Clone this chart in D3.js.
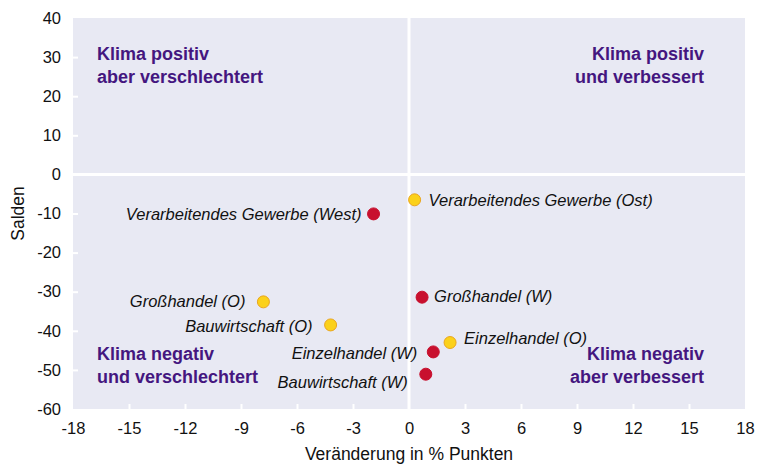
<!DOCTYPE html>
<html>
<head>
<meta charset="utf-8">
<script src="https://cdn.jsdelivr.net/npm/d3@7"></script>
<style>
  body { margin: 0; background: #fff; }
  text { font-family: "Liberation Sans", Arial, sans-serif; }
</style>
</head>
<body>
<svg id="chart"></svg>
<script>
const width = 761, height = 464;

// data
const names = ["Verarbeitendes Gewerbe (West)", "Verarbeitendes Gewerbe (Ost)",
  "Großhandel (O)", "Großhandel (W)", "Bauwirtschaft (O)",
  "Einzelhandel (W)", "Einzelhandel (O)", "Bauwirtschaft (W)"];
const changes = [-1.9, 0.3, -7.8, 0.7, -4.2, 1.3, 2.2, 0.9];
const balances = [-10.1, -6.5, -32.6, -31.4, -38.5, -45.4, -43.0, -51.1];
const region = ["W", "O", "O", "W", "O", "W", "O", "W"];

const xTicks = [-18, -15, -12, -9, -6, -3, 0, 3, 6, 9, 12, 15, 18];
const yTicks = [40, 30, 20, 10, 0, -10, -20, -30, -40, -50, -60];

const quadrants = [
  {lines: ["Klima positiv", "aber verschlechtert"], side: "left", top: true},
  {lines: ["Klima positiv", "und verbessert"], side: "right", top: true},
  {lines: ["Klima negativ", "und verschlechtert"], side: "left", top: false},
  {lines: ["Klima negativ", "aber verbessert"], side: "right", top: false}
];

// where each label sits next to its dot
const labelPos = [
  {anchor: "end", dx: -12, dy: 0},
  {anchor: "start", dx: 14, dy: 0},
  {anchor: "end", dx: -18, dy: -1},
  {anchor: "start", dx: 12, dy: -1},
  {anchor: "end", dx: -18, dy: 1},
  {anchor: "end", dx: -16, dy: 1},
  {anchor: "start", dx: 14, dy: -4},
  {anchor: "end", dx: -18, dy: 8}
];

const margin = {top: 18, right: 16, bottom: 55, left: 73};

const svg = d3.select("#chart")
  .attr("width", width)
  .attr("height", height);

const x = d3.scaleLinear().domain([-18, 18]).range([margin.left, width - margin.right]);
const y = d3.scaleLinear().domain([-60, 40]).range([height - margin.bottom, margin.top]);

// plot background
svg.append("rect")
  .attr("x", x(-18)).attr("y", y(40))
  .attr("width", x(18) - x(-18)).attr("height", y(-60) - y(40))
  .attr("fill", "#e8e9f3");

// zero lines
svg.append("line")
  .attr("x1", x(0)).attr("x2", x(0)).attr("y1", y(40)).attr("y2", y(-60))
  .attr("stroke", "#fff").attr("stroke-width", 3);
svg.append("line")
  .attr("x1", x(-18)).attr("x2", x(18)).attr("y1", y(0)).attr("y2", y(0))
  .attr("stroke", "#fff").attr("stroke-width", 3);

// axes
const fmt = d => String(d);
const xAxis = svg.append("g")
  .attr("transform", `translate(0,${y(-60)})`)
  .call(d3.axisBottom(x).tickValues(xTicks).tickFormat(fmt).tickSize(-5).tickPadding(13));
const yAxis = svg.append("g")
  .attr("transform", `translate(${x(-18)},0)`)
  .call(d3.axisLeft(y).tickValues(yTicks).tickFormat(fmt).tickSize(-5).tickPadding(12));

[xAxis, yAxis].forEach(g => {
  g.select(".domain").remove();
  g.selectAll(".tick line").attr("stroke", "#fff").attr("stroke-width", 2);
  g.selectAll(".tick text")
    .attr("font-size", 16.5).attr("fill", "#111");
});
// no ticks drawn on the end values
xAxis.selectAll(".tick line").filter(d => d === -18 || d === 18 || d === 0).remove();
yAxis.selectAll(".tick line").filter(d => d === 40 || d === -60 || d === 0).remove();

// axis titles
svg.append("text")
  .attr("x", (x(-18) + x(18)) / 2).attr("y", 460)
  .attr("text-anchor", "middle").attr("font-size", 17.5).attr("fill", "#111")
  .text("Veränderung in % Punkten");
svg.append("text")
  .attr("transform", `translate(24,${(y(40) + y(-60)) / 2}) rotate(-90)`)
  .attr("text-anchor", "middle").attr("font-size", 17.5).attr("fill", "#111")
  .text("Salden");

// quadrant labels
quadrants.forEach(q => {
  const t = svg.append("text")
    .attr("font-size", 18).attr("font-weight", "bold").attr("fill", "#44167f")
    .attr("text-anchor", q.side === "left" ? "start" : "end");
  const tx = q.side === "left" ? x(-18) + 24 : x(18) - 41;
  const ty = q.top ? y(40) + 42 : y(-60) - 49;
  q.lines.forEach((l, i) => {
    t.append("tspan").attr("x", tx).attr("y", ty + i * 23).text(l);
  });
});

// points
const pts = names.map((n, i) => ({name: n, dx: changes[i], saldo: balances[i], region: region[i], lp: labelPos[i]}));

svg.selectAll("text.lbl")
  .data(pts).enter().append("text")
  .attr("class", "lbl")
  .attr("x", d => x(d.dx) + d.lp.dx)
  .attr("y", d => y(d.saldo) + d.lp.dy)
  .attr("dy", "0.35em")
  .attr("text-anchor", d => d.lp.anchor)
  .attr("font-size", 16.5).attr("font-style", "italic").attr("fill", "#111")
  .text(d => d.name);

svg.selectAll("circle.pt")
  .data(pts).enter().append("circle")
  .attr("class", "pt")
  .attr("cx", d => x(d.dx)).attr("cy", d => y(d.saldo))
  .attr("r", 6)
  .attr("fill", d => d.region === "W" ? "#c8102e" : "#fbd11a")
  .attr("stroke", d => d.region === "W" ? "#c8102e" : "#eaa51c")
  .attr("stroke-width", 1);
</script>
</body>
</html>
